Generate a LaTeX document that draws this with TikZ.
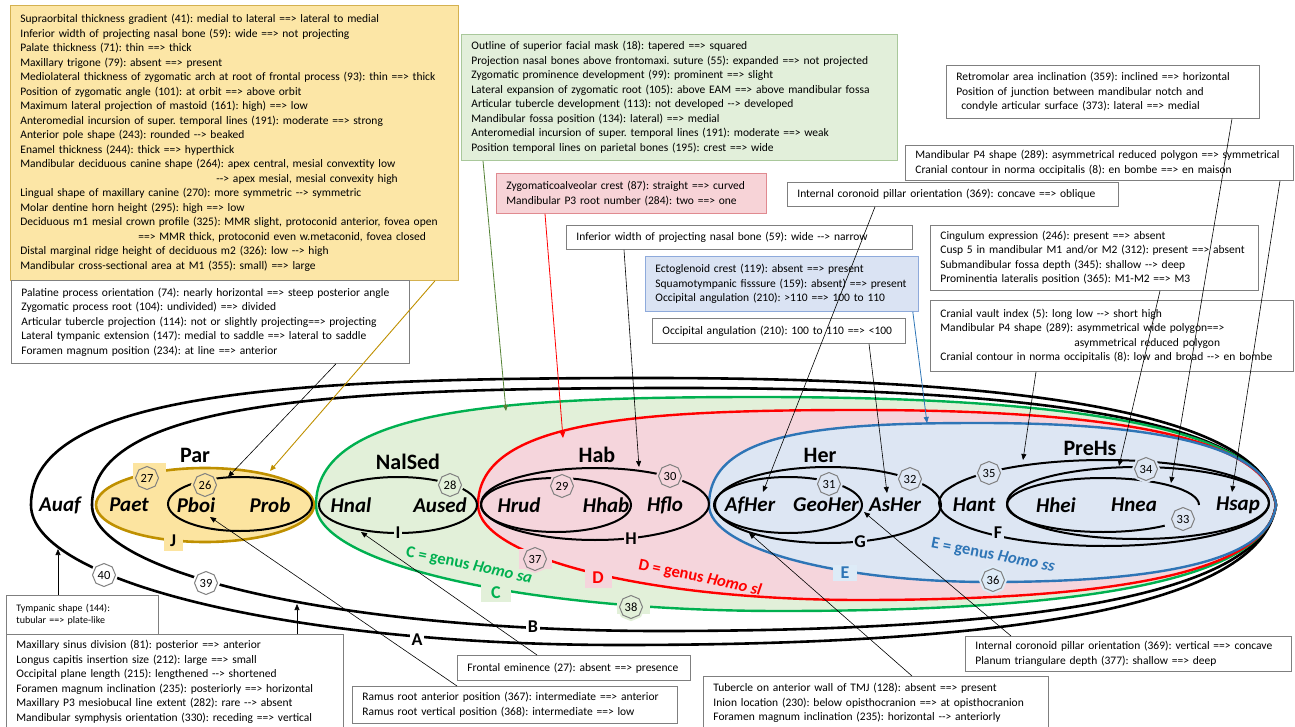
\documentclass[tikz,border=0pt]{standalone}
\usepackage{fontspec}
\setmainfont{Carlito}
\usetikzlibrary{arrows.meta,shapes.geometric}
\frenchspacing
\definecolor{ybox}{HTML}{FCE6A6}
\definecolor{yline}{HTML}{D4B150}
\definecolor{yfill}{HTML}{FCE4A0}
\definecolor{gold}{HTML}{BF9000}
\definecolor{gbox}{HTML}{E2EFDA}
\definecolor{gboxline}{HTML}{A9C89B}
\definecolor{gfill}{HTML}{E2F0D9}
\definecolor{gline}{HTML}{00B050}
\definecolor{garrow}{HTML}{548235}
\definecolor{pbox}{HTML}{F7D3D7}
\definecolor{pboxline}{HTML}{E08A90}
\definecolor{pfill}{HTML}{F5D5DC}
\definecolor{rline}{HTML}{FF0000}
\definecolor{bbox}{HTML}{DAE3F3}
\definecolor{bboxline}{HTML}{8EAADB}
\definecolor{bfill}{HTML}{DDE6F3}
\definecolor{bline}{HTML}{2E75B6}
\definecolor{epatch}{HTML}{DDEBF7}
\definecolor{boxgray}{HTML}{7F7F7F}
\definecolor{badgegray}{HTML}{808080}
\newcommand\dar{-\kern0pt->}
% style, L, R, c, T, xT, Bm, xB
\newcommand\egg[8]{\path[#1] (#2,#4) .. controls (#2,{#4-0.9*(#4-#5)}) and ({#6-0.57*(#6-#2)},#5) .. (#6,#5)
 .. controls ({#6+0.7*(#3-#6)},#5) and ({#3-0.02*(#3-#6)},{#4-0.62*(#4-#5)}) .. (#3,#4)
 .. controls ({#3-0.02*(#3-#8)},{#4+0.62*(#7-#4)}) and ({#8+0.7*(#3-#8)},#7) .. (#8,#7)
 .. controls ({#8-0.5523*(#8-#2)},#7) and (#2,{#4+0.5523*(#7-#4)}) .. cycle;}
\begin{document}
\begin{tikzpicture}[x=1pt,y=-1pt,
 box/.style={draw=boxgray, line width=0.8pt, fill=white, anchor=north west, align=left, inner xsep=10pt, inner ysep=2pt, font=\fontsize{11.5}{14.5}\selectfont},
 conn/.style={line width=0.6pt, -{Triangle[length=6pt,width=5pt]}},
 oval/.style={ellipse, draw=black, line width=2pt, inner sep=0pt},
 badge/.style={regular polygon, regular polygon sides=8, shape border rotate=22.5, draw=badgegray, line width=1pt, fill=#1, minimum size=23pt, inner sep=0pt, font=\fontsize{12.5}{12.5}\selectfont, preaction={draw=#1, line width=5pt}},
 lab/.style={fill=#1, inner sep=1.5pt, font=\fontsize{18}{18}\selectfont\bfseries},
 sp/.style={font=\fontsize{21}{21}\selectfont\bfseries\itshape},
 grp/.style={font=\fontsize{22}{22}\selectfont\bfseries},
 genus/.style={font=\fontsize{16.5}{16.5}\selectfont\bfseries}
]
\path[use as bounding box] (0,0) rectangle (1295,727);

% ---------- text boxes ----------
\node[box, fill=ybox, draw=yline, text width=428pt, minimum height=275pt] (yellow) at (10,5) {%
\mbox{Supraorbital thickness gradient (41): medial to lateral ==> lateral to medial}\\
\mbox{Inferior width of projecting nasal bone (59): wide ==> not projecting}\\
\mbox{Palate thickness (71): thin ==> thick}\\
\mbox{Maxillary trigone (79): absent ==> present}\\
\mbox{Mediolateral thickness of zygomatic arch at root of frontal process (93): thin ==> thick}\\
\mbox{Position of zygomatic angle (101): at orbit ==> above orbit}\\
\mbox{Maximum lateral projection of mastoid (161): high) ==> low}\\
\mbox{Anteromedial incursion of super. temporal lines (191): moderate ==> strong}\\
\mbox{Anterior pole shape (243): rounded \dar{} beaked}\\
\mbox{Enamel thickness (244): thick ==> hyperthick}\\
\mbox{Mandibular deciduous canine shape (264): apex central, mesial convextity low}\\
\mbox{\hspace*{196pt}\dar{} apex mesial, mesial convexity high}\\
\mbox{Lingual shape of maxillary canine (270): more symmetric \dar{} symmetric}\\
\mbox{Molar dentine horn height (295): high ==> low}\\
\mbox{Deciduous m1 mesial crown profile (325): MMR slight, protoconid anterior, fovea open}\\
\mbox{\hspace*{118pt}==> MMR thick, protoconid even w.metaconid, fovea closed}\\
\mbox{Distal marginal ridge height of deciduous m2 (326): low \dar{} high}\\
\mbox{Mandibular cross-sectional area at M1 (355): small) ==> large}};

\node[box, fill=gbox, draw=gboxline, text width=416pt, minimum height=126pt] (green) at (461,34) {%
\mbox{Outline of superior facial mask (18): tapered ==> squared}\\
\mbox{Projection nasal bones above frontomaxi. suture (55): expanded ==> not projected}\\
\mbox{Zygomatic prominence development (99): prominent ==> slight}\\
\mbox{Lateral expansion of zygomatic root (105): above EAM ==> above mandibular fossa}\\
\mbox{Articular tubercle development (113): not developed \dar{} developed}\\
\mbox{Mandibular fossa position (134): lateral) ==> medial}\\
\mbox{Anteromedial incursion of super. temporal lines (191): moderate ==> weak}\\
\mbox{Position temporal lines on parietal bones (195): crest ==> wide}};

\node[box, fill=pbox, draw=pboxline, text width=250pt, minimum height=40pt] (pink) at (496,173) {%
\mbox{Zygomaticoalveolar crest (87): straight ==> curved}\\
\mbox{Mandibular P3 root number (284): two ==> one}};

\node[box, text width=326pt, minimum height=24pt] (inferior) at (566,225) {%
\mbox{Inferior width of projecting nasal bone (59): wide \dar{} narrow}};

\node[box, text width=311pt, minimum height=24pt] (concave) at (787,182) {%
\mbox{Internal coronoid pillar orientation (369): concave ==> oblique}};

\node[box, text width=293pt, minimum height=53pt] (retro) at (946,65) {%
\mbox{Retromolar area inclination (359): inclined ==> horizontal}\\
\mbox{Position of junction between mandibular notch and}\\
\mbox{\hspace*{5pt}condyle articular surface (373): lateral ==> medial}};

\node[box, text width=368pt, minimum height=35pt] (p4) at (905,145) {%
\mbox{Mandibular P4 shape (289): asymmetrical reduced polygon ==> symmetrical}\\
\mbox{Cranial contour in norma occipitalis (8): en bombe ==> en maison}};

\node[box, text width=308pt, minimum height=65pt] (cing) at (930,225) {%
\mbox{Cingulum expression (246): present ==> absent}\\
\mbox{Cusp 5 in mandibular M1 and/or M2 (312): present ==> absent}\\
\mbox{Submandibular fossa depth (345): shallow \dar{} deep}\\
\mbox{Prominentia lateralis position (365): M1-M2 ==> M3}};

\node[box, text width=343pt, minimum height=71pt] (vault) at (930,300) {%
\mbox{Cranial vault index (5): long low \dar{} short high}\\
\mbox{Mandibular P4 shape (289): asymmetrical wide polygon==>}\\
\mbox{\hspace*{134pt}asymmetrical reduced polygon}\\
\mbox{Cranial contour in norma occipitalis (8): low and broad \dar{} en bombe}};

\node[box, fill=bbox, draw=bboxline, text width=253pt, minimum height=55pt] (ecto) at (645,256) {%
\mbox{Ectoglenoid crest (119): absent ==> present}\\
\mbox{Squamotympanic fisssure (159): absent) ==> present}\\
\mbox{Occipital angulation (210): >110 ==> 100 to 110}};

\node[box, text width=233pt, minimum height=25pt] (occip) at (652,318) {%
\mbox{Occipital angulation (210): 100 to 110 ==> <100}};

\node[box, text width=378pt, minimum height=83pt] (palatine) at (11,280) {%
\mbox{Palatine process orientation (74): nearly horizontal ==> steep posterior angle}\\
\mbox{Zygomatic process root (104): undivided) ==> divided}\\
\mbox{Articular tubercle projection (114): not or slightly projecting==> projecting}\\
\mbox{Lateral tympanic extension (147): medial to saddle ==> lateral to saddle}\\
\mbox{Foramen magnum position (234): at line ==> anterior}};

\node[box, text width=132pt, minimum height=39pt, font=\fontsize{10}{12.3}\selectfont] (tymp) at (6,595) {%
\mbox{Tympanic shape (144):}\\
\mbox{tubular ==> plate-like}};

\node[box, text width=317pt, minimum height=95pt] (maxil) at (6,634) {%
\mbox{Maxillary sinus division (81): posterior ==> anterior}\\
\mbox{Longus capitis insertion size (212): large ==> small}\\
\mbox{Occipital plane length (215): lengthened \dar{} shortened}\\
\mbox{Foramen magnum inclination (235): posteriorly ==> horizontal}\\
\mbox{Maxillary P3 mesiobucal line extent (282): rare \dar{} absent}\\
\mbox{Mandibular symphysis orientation (330): receding ==> vertical}};

\node[box, text width=213pt, minimum height=25pt] (frontal) at (457,655) {%
\mbox{Frontal eminence (27): absent ==> presence}};

\node[box, text width=305pt, minimum height=37pt] (ramus) at (352,686) {%
\mbox{Ramus root anterior position (367): intermediate ==> anterior}\\
\mbox{Ramus root vertical position (368): intermediate ==> low}};

\node[box, text width=325pt, minimum height=53pt] (tuber) at (703,676) {%
\mbox{Tubercle on anterior wall of TMJ (128): absent ==> present}\\
\mbox{Inion location (230): below opisthocranion ==> at opisthocranion}\\
\mbox{Foramen magnum inclination (235): horizontal \dar{} anteriorly}};

\node[box, text width=306pt, minimum height=35pt] (vert) at (965,636) {%
\mbox{Internal coronoid pillar orientation (369): vertical ==> concave}\\
\mbox{Planum triangulare depth (377): shallow ==> deep}};

% ---------- big nested shapes ----------
\egg{fill=gfill}{316}{1276}{505}{397}{760}{611}{780}
\egg{fill=pfill}{478}{1276}{505}{410}{860}{600}{860}
\egg{fill=bfill}{709}{1276}{505}{423}{980}{582}{990}
\egg{draw=black,line width=2.6pt}{31}{1276}{505}{378}{650}{645}{620}
\egg{draw=black,line width=2.6pt}{92}{1276}{505}{388}{680}{631}{660}
\egg{draw=gline,line width=2.4pt}{316}{1276}{505}{397}{760}{611}{780}
\egg{draw=rline,line width=2.4pt}{478}{1276}{505}{410}{860}{600}{860}
\egg{draw=bline,line width=2.4pt}{709}{1276}{505}{423}{980}{582}{990}

% ---------- inner ellipses ----------
\node[oval, draw=gold, fill=yfill, line width=2.6pt, minimum width=218pt, minimum height=74pt] (par) at (205,505) {};
\node[oval, minimum width=144pt, minimum height=54pt] (pboiE) at (240,504) {};
\node[oval, minimum width=158pt, minimum height=56pt] (nalE) at (398,505) {};
\node[oval, minimum width=228pt, minimum height=72pt] (habE) at (595,504) {};
\node[oval, minimum width=150pt, minimum height=54pt] (hrudE) at (556,505) {};
\node[oval, minimum width=226pt, minimum height=76pt] (herE) at (828,505) {};
\node[oval, minimum width=148pt, minimum height=56pt] (geoE) at (788,505) {};
\node[oval, minimum width=330pt, minimum height=86pt] (preE) at (1104,503) {};
\node[oval, minimum width=262pt, minimum height=72pt] (e34) at (1138,503) {};
\draw[line width=2pt] ([shift={(0:96pt and 27pt)}]1103,505) arc[start angle=0, end angle=310, x radius=96pt, y radius=27pt];

% ---------- connectors ----------
\coordinate (tPar) at (270,471);
\coordinate (tPboi) at (228,477);
\coordinate (tC) at (506,411);
\coordinate (tD) at (563,438);
\coordinate (tH) at (639,467);
\coordinate (tAf) at (763,492);
\coordinate (tE) at (927,423);
\coordinate (tAs) at (887,493);
\coordinate (t33) at (1171,483);
\coordinate (tHsap) at (1232,492);
\coordinate (t34) at (1119,466);
\coordinate (tPre) at (1023,460);
\coordinate (tAo) at (58,549);
\coordinate (tBo) at (297,604);
\coordinate (tNal) at (361,532);
\coordinate (tPb) at (210,517);
\coordinate (tHer) at (749,533);
\coordinate (tGeo) at (864,512);
\draw[conn, gold, line width=0.9pt] ([xshift=425pt]yellow.south west) -- (tPar);
\draw[conn] ([xshift=325pt]palatine.south west) -- (tPboi);
\draw[conn, garrow, line width=0.8pt] ([xshift=22pt]green.south west) -- (tC);
\draw[conn, rline, line width=0.8pt] ([xshift=49pt]pink.south west) -- (tD);
\draw[conn] ([xshift=58pt]inferior.south west) -- (tH);
\draw[conn] ([xshift=88pt]concave.south west) -- (tAf);
\draw[conn, bline, line width=0.8pt] ([xshift=-6pt]ecto.south east) -- (tE);
\draw[conn] ([xshift=217pt]occip.south west) -- (tAs);
\draw[conn] ([xshift=286pt]retro.south west) -- (t33);
\draw[conn] ([xshift=375pt]p4.south west) -- (tHsap);
\draw[conn] ([xshift=230pt]cing.south west) -- (t34);
\draw[conn] ([xshift=106pt]vault.south west) -- (tPre);
\draw[conn] ([xshift=52pt]tymp.north west) -- (tAo);
\draw[conn] ([xshift=291pt]maxil.north west) -- (tBo);
\draw[conn] ([xshift=80pt]frontal.north west) -- (tNal);
\draw[conn] ([xshift=105pt]ramus.north west) -- (tPb);
\draw[conn] ([xshift=209pt]tuber.north west) -- (tHer);
\draw[conn] ([xshift=46pt]vert.north west) -- (tGeo);

% ---------- patches, labels, badges ----------
\node[fill=yfill, minimum width=33pt, minimum height=22pt, inner sep=0pt] (p27) at (149,474) {};
\node[fill=pfill, minimum width=33pt, minimum height=20pt, inner sep=0pt] (p37) at (535,559) {};
\node[fill=gfill, minimum width=33pt, minimum height=18pt, inner sep=0pt] (p38) at (633,605) {};
\node[lab=yfill, minimum width=19pt, minimum height=19pt] (J) at (173,541) {J};
\node[lab=gfill, text=gline, minimum width=30pt, minimum height=18pt] (Cl) at (496,593) {C};
\node[lab=pfill, text=rline, minimum width=27pt, minimum height=19pt] (Dl) at (598,578) {D};
\node[lab=epatch, text=bline, minimum width=24pt, minimum height=16pt] (El) at (845,573) {E};
\node[lab=gfill] (Il) at (398,533) {I};
\node[lab=pfill] (Hl) at (631,539) {H};
\node[lab=bfill] (Gl) at (860,542) {G};
\node[lab=bfill] (Fl) at (998,533) {F};
\node[lab=white] (Al) at (417,640) {A};
\node[lab=white] (Bl) at (533,627) {B};

\node[badge=yfill] (b26) at (205,485) {26};
\node[badge=yfill] (b27) at (147,478) {27};
\node[badge=gfill] (b28) at (450,485) {28};
\node[badge=pfill] (b29) at (562,486) {29};
\node[badge=pfill] (b30) at (670,476) {30};
\node[badge=bfill] (b31) at (829,484) {31};
\node[badge=bfill] (b32) at (910,479) {32};
\node[badge=bfill] (b33) at (1183,519) {33};
\node[badge=bfill] (b34) at (1146,469) {34};
\node[badge=bfill] (b35) at (989,473) {35};
\node[badge=epatch] (b36) at (993,580) {36};
\node[badge=pfill] (b37) at (535,559) {37};
\node[badge=gfill] (b38) at (631,607) {38};
\node[badge=white] (b39) at (206,583) {39};
\node[badge=white] (b40) at (104,575) {40};

\node[genus, text=gline, rotate=-12] (gC) at (469,566) {C = genus \textit{Homo sa}};
\node[genus, text=rline, rotate=-12] (gD) at (700,578) {D = genus \textit{Homo sl}};
\node[genus, text=bline, rotate=-11] (gE) at (993,556) {E = genus \textit{Homo ss}};

\node[grp] (Par) at (195,455) {Par};
\node[grp] (NalSed) at (408,462) {NalSed};
\node[grp] (Hab) at (597,455) {Hab};
\node[grp] (Her) at (820,455) {Her};
\node[grp] (PreHs) at (1090,448) {PreHs};

\node[sp] (Auaf) at (60,505) {Auaf};
\node[sp] (Paet) at (129,505) {Paet};
\node[sp] (Pboi) at (196,505) {Pboi};
\node[sp] (Prob) at (270,505) {Prob};
\node[sp] (Hnal) at (351,505) {Hnal};
\node[sp] (Aused) at (440,505) {Aused};
\node[sp] (Hrud) at (519,505) {Hrud};
\node[sp] (Hhab) at (606,505) {Hhab};
\node[sp] (Hflo) at (665,505) {Hflo};
\node[sp] (AfHer) at (750,505) {AfHer};
\node[sp] (GeoHer) at (826,505) {GeoHer};
\node[sp] (AsHer) at (895,505) {AsHer};
\node[sp] (Hant) at (974,505) {Hant};
\node[sp] (Hhei) at (1056,505) {Hhei};
\node[sp] (Hnea) at (1134,505) {Hnea};
\node[sp] (Hsap) at (1238,505) {Hsap};
\end{tikzpicture}
\end{document}
